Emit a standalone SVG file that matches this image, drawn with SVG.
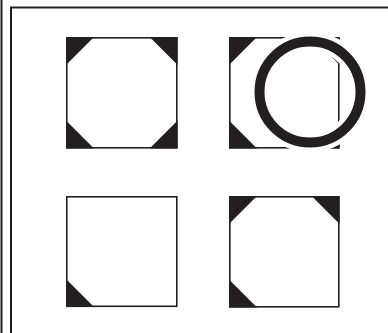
<svg xmlns="http://www.w3.org/2000/svg" width="388" height="333" viewBox="0 0 388 333">
<style>
.frame{fill:none;stroke:#231f20;stroke-width:2}
.sq{fill:#fff;stroke:#231f20;stroke-width:1.6}
.tri{fill:#231f20;stroke:none}
.halo{fill:none;stroke:#fff;stroke-width:19}
.ring{fill:none;stroke:#231f20;stroke-width:10}
</style>
<rect width="388" height="333" fill="#fff"/>
<g id="frame">
<line class="frame" x1="1.5" y1="0" x2="1.5" y2="333"/>
<polyline class="frame" points="11,333 11,7.5 388,7.5"/>
</g>
<g id="square-top-left">
<rect class="sq" x="66.8" y="37.8" width="110" height="110"/>
<polygon class="tri" points="66,37 94,37 66,65"/>
<polygon class="tri" points="177.6,37 149.6,37 177.6,65"/>
<polygon class="tri" points="66,148.6 94,148.6 66,120.6"/>
<polygon class="tri" points="177.6,148.6 149.6,148.6 177.6,120.6"/>
</g>
<g id="square-top-right">
<rect class="sq" x="229.8" y="37.8" width="109" height="110"/>
<polygon class="tri" points="229,37 257,37 229,65"/>
<polygon class="tri" points="339.6,37 311.6,37 339.6,65"/>
<polygon class="tri" points="229,148.6 257,148.6 229,120.6"/>
<polygon class="tri" points="339.6,148.6 311.6,148.6 339.6,120.6"/>
</g>
<g id="circle">
<circle class="halo" cx="310" cy="92" r="50.5"/>
<circle class="ring" cx="310" cy="92" r="50.5"/>
</g>
<g id="square-bottom-left">
<rect class="sq" x="66.8" y="196.8" width="110" height="109.5"/>
<polygon class="tri" points="66,307.1 94,307.1 66,279.1"/>
</g>
<g id="square-bottom-right">
<rect class="sq" x="229.8" y="196.8" width="109" height="110"/>
<polygon class="tri" points="229,196 257,196 229,224"/>
<polygon class="tri" points="339.6,196 311.6,196 339.6,224"/>
<polygon class="tri" points="229,307.6 257,307.6 229,279.6"/>
</g>
<g id="connectors"/>
</svg>
